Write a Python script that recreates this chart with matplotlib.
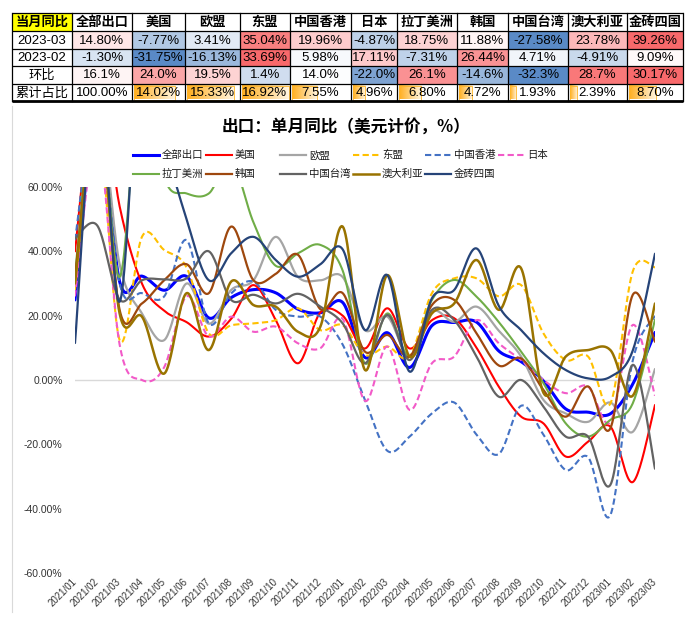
import numpy as np
import matplotlib
matplotlib.use('Agg')
import matplotlib.pyplot as plt
from matplotlib import font_manager as fm
from matplotlib.patches import Rectangle
from matplotlib.colors import to_rgb
from matplotlib.ticker import FuncFormatter


def avail(names):
    for n in names:
        try:
            fm.findfont(fm.FontProperties(family=n), fallback_to_default=False)
            return n
        except Exception:
            pass
    return 'DejaVu Sans'


NARROW = avail(['Liberation Sans Narrow', 'DejaVu Sans Condensed', 'Liberation Sans'])
LAT = avail(['Liberation Sans', 'Arial', 'DejaVu Sans'])
CJK = 'Noto Sans CJK SC'
plt.rcParams['font.family'] = [CJK, 'DejaVu Sans']

# ---------------- data ----------------
months = ['2021/01', '2021/02', '2021/03', '2021/04', '2021/05', '2021/06', '2021/07',
          '2021/08', '2021/09', '2021/10', '2021/11', '2021/12', '2022/01', '2022/02',
          '2022/03', '2022/04', '2022/05', '2022/06', '2022/07', '2022/08', '2022/09',
          '2022/10', '2022/11', '2022/12', '2023/01', '2023/02', '2023/03']

names = ['全部出口', '美国', '欧盟', '东盟', '中国香港', '日本',
         '拉丁美洲', '韩国', '中国台湾', '澳大利亚', '金砖四国']

# 2021/02 values run far above the 60% axis limit; they are estimates.
total = [24.9, 85, 30.6, 32.3, 27.9, 32.2, 19.3, 25.6, 28.1, 27.1, 22.0, 20.9, 24.1, 7.0,
         14.7, 3.9, 16.9, 17.9, 18.0, 9.0, 5.7, -0.3, -9.0, -10.0, -10.5, -1.30, 14.80]
usa = [40, 95, 54, 30, 21.5, 18, 13.5, 19, 29.5, 18.6, 5.2, 21, 20, 9.8,
       22.3, 9.8, 18.6, 19.2, 10, -2.1, -11.4, -13.5, -23.8, -19.2, -14.5, -31.75, -7.77]
eu = [30, 85, 36, 20.7, 12.4, 30, 17.5, 28, 31, 44.5, 32, 31, 32, 15.5,
      19.7, 7.3, 21.2, 18.1, 22.8, 15.3, 7.3, -6.2, -10.4, -13, -7, -16.13, 3.41]
asean = [28, 80, 12.4, 44.5, 40.4, 35, 14.5, 17, 17.6, 18.6, 22.3, 15.5, 17, 7.8,
         10.4, 7.3, 27, 31.6, 31.6, 26, 29.5, 14.5, 6.2, 7.3, -7.3, 33.69, 35.04]
hk = [43.5, 85, 30, 27, 26, 43.5, 17.6, 26.9, 30.6, 21.8, 19.7, 19.7, 11, -6.2,
      -22, -17.6, -10.4, -7, -17, -23, -8, -17, -28, -24, -42, 5.98, 19.96]
japan = [26, 75, 11, 0, 4, 26, 13.5, 19.7, 15, 16.6, 11.4, 9.9, 19, -6.5,
         10.4, -9.3, 5.2, 7.3, 18.6, 11.4, 6.2, 0, -4.1, -2, -13, 17.11, -4.87]
latam = [33, 90, 32, 100, 63, 58, 58, 68, 49, 35.5, 39.4, 42, 34, 5.2,
         20.7, 7.3, 24.9, 31.1, 25.9, 18, 8.8, -1, -13.5, -17.6, -12.4, -7.31, 18.75]
korea = [32, 85, 21.8, 23.8, 31, 36, 27, 47.7, 31, 33, 38.9, 22, 27, 8.8,
         14, 7.3, 23.3, 24.9, 14.5, 4.5, 6.7, -3.1, -11.4, -2, -15, 26.44, 11.88]
taiwan = [44, 48, 25, 31, 31.3, 31.6, 40, 24.9, 26.5, 23.8, 26.8, 22.8, 17.6, 5.2,
          20.2, 6.2, 21.8, 18.6, 7.3, -5.2, 0, -8.3, -17.6, -17.6, -32.6, 4.71, -27.58]
australia = [30, 85, 20.7, 19.7, 2.0, 27, 9.3, 30.6, 23.3, 22.8, 15, 16.6, 47.7, 3.1,
             32.6, 7.3, 20.7, 23.8, 37.3, 21.8, 34.7, -4, 7.3, 9.3, 9.3, -4.91, 23.78]
brics = [11.5, 95, 24.3, 110, 75, 50, 31, 39.4, 44.5, 37.3, 32.1, 36, 40.6, 15.5,
         32.6, 2.6, 25.4, 28, 40.9, 23, 15.5, 8.3, 3.1, 0.5, 1, 9.09, 39.26]

series = [total, usa, eu, asean, hk, japan, latam, korea, taiwan, australia, brics]

tbl_header = '当月同比'
tbl_rows = ['2023-03', '2023-02', '环比', '累计占比']
tbl_2303 = [14.80, -7.77, 3.41, 35.04, 19.96, -4.87, 18.75, 11.88, -27.58, 23.78, 39.26]
tbl_2302 = [-1.30, -31.75, -16.13, 33.69, 5.98, 17.11, -7.31, 26.44, 4.71, -4.91, 9.09]
tbl_mom = [16.1, 24.0, 19.5, 1.4, 14.0, -22.0, 26.1, -14.6, -32.3, 28.7, 30.17]
tbl_mom_text = ['16.1%', '24.0%', '19.5%', '1.4%', '14.0%', '-22.0%', '26.1%', '-14.6%',
                '-32.3%', '28.7%', '30.17%']
tbl_share = [100.00, 14.02, 15.33, 16.92, 7.55, 4.96, 6.80, 4.72, 1.93, 2.39, 8.70]

title = '出口：单月同比（美元计价，%）'

# ---------------- styles ----------------
colors = ['#0000FF', '#FF0000', '#A5A5A5', '#FFC000', '#4472C4', '#F25AC8',
          '#70AD47', '#9E480E', '#636363', '#997300', '#264478']
dashed = [False, False, False, True, True, True, False, False, False, False, False]
widths = [2.2, 1.5, 1.6, 1.5, 1.5, 1.5, 1.5, 1.6, 1.6, 1.8, 1.6]
DASH = (0, (3, 1.6))


def smooth(y, n=24):
    y = np.asarray(y, float)
    x = np.arange(len(y), dtype=float)
    P = np.column_stack([x, y])
    Pe = np.vstack([P[0], P, P[-1]])
    t = np.linspace(0, 1, n, endpoint=False)[:, None]
    out = []
    for i in range(len(y) - 1):
        p0, p1, p2, p3 = Pe[i], Pe[i + 1], Pe[i + 2], Pe[i + 3]
        c1 = p1 + (p2 - p0) / 6.0
        c2 = p2 - (p3 - p1) / 6.0
        seg = (1 - t) ** 3 * p1 + 3 * (1 - t) ** 2 * t * c1 + 3 * (1 - t) * t ** 2 * c2 + t ** 3 * p2
        out.append(seg)
    out.append(P[-1][None, :])
    out = np.vstack(out)
    return out[:, 0], out[:, 1]


W, H = 700, 619
fig = plt.figure(figsize=(W / 100, H / 100), dpi=100)
fig.patch.set_facecolor('white')

# overlay in pixel coordinates for table / title / legend
ov = fig.add_axes([0, 0, 1, 1])
ov.axis('off')

col_edges = [12, 72, 132, 185, 240, 290, 351, 397, 457, 508, 568, 627, 683]
row_edges = [13, 31, 49, 66, 84, 101]

BLUE = np.array(to_rgb('#5A8AC6'))
RED = np.array(to_rgb('#F8696B'))
WHITE = np.ones(3)


def scale_color(v, vals, mid):
    vmin, vmax = min(vals), max(vals)
    if v >= mid:
        t = (v - mid) / (vmax - mid)
        return WHITE + (RED - WHITE) * t
    t = (mid - v) / (mid - vmin)
    return WHITE + (BLUE - WHITE) * t


row_mids = [10, 8, 15]
num_rows = [tbl_2303, tbl_2302, tbl_mom]

# header
ov.add_patch(Rectangle((col_edges[0], row_edges[0]), col_edges[1] - col_edges[0],
                       row_edges[1] - row_edges[0], facecolor='#FFFF00', edgecolor='none', zorder=1))
hy = (row_edges[0] + row_edges[1]) / 2
ov.text((col_edges[0] + col_edges[1]) / 2, hy, tbl_header, ha='center', va='center',
        fontsize=9.5, fontweight='bold', family=CJK, zorder=3)
for j, nm in enumerate(names):
    cx = (col_edges[j + 1] + col_edges[j + 2]) / 2
    ov.text(cx, hy, nm, ha='center', va='center', fontsize=9.5, fontweight='bold',
            family=CJK, zorder=3)

# first column labels
for i, lab in enumerate(tbl_rows):
    cy = (row_edges[i + 1] + row_edges[i + 2]) / 2
    fam = LAT if lab[0].isdigit() else CJK
    ov.text((col_edges[0] + col_edges[1]) / 2, cy + 0.5, lab, ha='center', va='center',
            fontsize=9.5, family=fam, zorder=3)

# colored numeric rows
for i, vals in enumerate(num_rows):
    y0, y1 = row_edges[i + 1], row_edges[i + 2]
    for j, v in enumerate(vals):
        x0, x1 = col_edges[j + 1], col_edges[j + 2]
        c = scale_color(v, vals, row_mids[i])
        ov.add_patch(Rectangle((x0, y0), x1 - x0, y1 - y0, facecolor=c, edgecolor='none', zorder=1))
        txt = tbl_mom_text[j] if i == 2 else f'{v:.2f}%'
        ov.text((x0 + x1) / 2, (y0 + y1) / 2 + 0.5, txt, ha='center', va='center',
                fontsize=9.5, family=NARROW, zorder=3)

# data bars row
y0, y1 = row_edges[4], row_edges[5]
smax = max(tbl_share[1:])
grad = np.linspace(0, 1, 64)[None, :]
c_a = np.array(to_rgb('#FFAE1F'))
c_b = np.array(to_rgb('#FFF6E3'))
gimg = c_a[None, None, :] * (1 - grad[..., None]) + c_b[None, None, :] * grad[..., None]
for j, v in enumerate(tbl_share):
    x0, x1 = col_edges[j + 1], col_edges[j + 2]
    if j > 0:
        bw = (x1 - x0 - 3) * v / smax
        ov.imshow(gimg, extent=[x0 + 1.5, x0 + 1.5 + bw, y1 - 1.5, y0 + 1.5], aspect='auto',
                  zorder=2, interpolation='bilinear')
        ov.add_patch(Rectangle((x0 + 1.5, y0 + 1.5), bw, y1 - y0 - 3, facecolor='none',
                               edgecolor='#FFB628', lw=0.6, zorder=2.1))
    ov.text((x0 + x1) / 2, (y0 + y1) / 2 + 0.5, f'{v:.2f}%', ha='center', va='center',
            fontsize=9.5, family=NARROW, zorder=3)

# grid lines
for k, yy in enumerate(row_edges):
    lw = 2.0 if k == len(row_edges) - 1 else 0.9
    ov.plot([col_edges[0], col_edges[-1]], [yy, yy], color='black', lw=lw, zorder=4,
            solid_capstyle='butt')
for xx in col_edges:
    ov.plot([xx, xx], [row_edges[0], row_edges[-1]], color='black', lw=0.9, zorder=4)

# faint chart border at left
ov.plot([12, 12], [106, 612], color='#D9D9D9', lw=0.8, zorder=1)

# title
ov.text(346, 128, title, ha='center', va='center', fontsize=12, fontweight='bold',
        family=CJK, zorder=3)

# legend (manual grid like Excel)
leg_cols = [133, 206, 280, 353, 425, 498]
leg_rows = [155, 173.5]
for k, nm in enumerate(names):
    r, cidx = divmod(k, 6)
    xs = leg_cols[cidx]
    yy = leg_rows[r]
    ov.plot([xs, xs + 26], [yy, yy], color=colors[k], lw=widths[k],
            linestyle=DASH if dashed[k] else '-', zorder=3)
    ov.text(xs + 29, yy + 0.3, nm, ha='left', va='center', fontsize=7.5, family=CJK,
            color='#1A1A1A', zorder=3)

ov.set_xlim(0, W)
ov.set_ylim(H, 0)

# ---------------- chart ----------------
left, right, top, bottom = 75, 655, 187, 573
ax = fig.add_axes([left / W, (H - bottom) / H, (right - left) / W, (bottom - top) / H])
ax.set_facecolor('none')
x_idx = np.arange(len(months))
for k, ys in enumerate(series):
    sx, sy = smooth(ys)
    ax.plot(sx, sy, color=colors[k], lw=widths[k],
            linestyle=DASH if dashed[k] else '-', zorder=2 + k * 0.01,
            solid_capstyle='round', dash_capstyle='butt')

ax.axhline(0, color='#D9D9D9', lw=1.0, zorder=1)
ax.set_xlim(0, len(months) - 1)
ax.set_ylim(-60, 60)
ax.set_yticks([-60, -40, -20, 0, 20, 40, 60])
ax.yaxis.set_major_formatter(FuncFormatter(lambda v, p: f'{v:.2f}%'))
ax.set_xticks(x_idx)
ax.set_xticklabels(months, rotation=45, ha='right', va='center', rotation_mode='anchor',
                   fontsize=7, family=LAT, color='#333333')
for lab in ax.get_yticklabels():
    lab.set_fontsize(7.5)
    lab.set_family(LAT)
    lab.set_color('#333333')
ax.tick_params(axis='y', length=0, pad=9)
ax.tick_params(axis='x', length=0, pad=5)
for s in ax.spines.values():
    s.set_visible(False)

fig.savefig('out.png', dpi=100, facecolor='white')
